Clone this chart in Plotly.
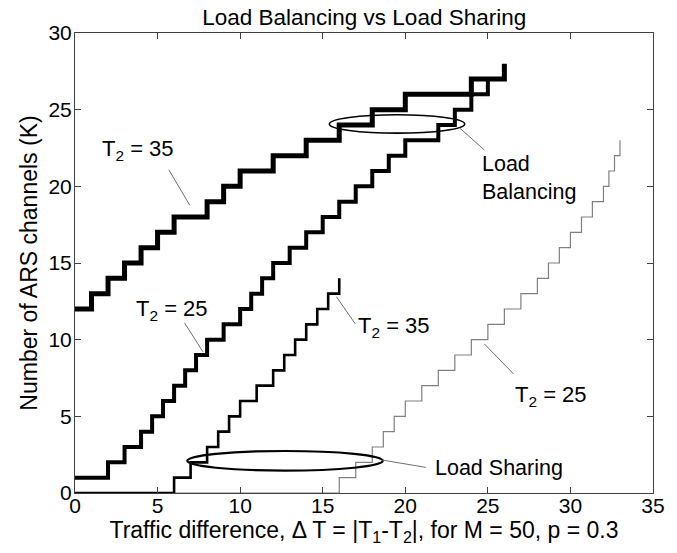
import plotly.graph_objects as go

# ---------------- data ----------------
# Load Balancing, T2 = 35
lb35_x = [0, 1, 2, 3, 4, 5, 6, 8, 9, 10, 12, 14, 16, 18, 20, 24, 26]
lb35_y = [12, 13, 14, 15, 16, 17, 18, 19, 20, 21, 22, 23, 24, 25, 26, 27, 28]
# Load Balancing, T2 = 25
lb25_x = [0, 2, 3, 4, 4.67, 5.33, 6, 6.67, 7.33, 8, 9, 10, 10.67, 11.33, 12,
          13, 14, 15, 16, 17, 18, 19, 20, 22, 23, 24, 25, 26]
lb25_y = [1, 2, 3, 4, 5, 6, 7, 8, 9, 10, 11, 12, 13, 14, 15, 16, 17, 18, 19,
          20, 21, 22, 23, 24, 25, 26, 27, 27]
# Load Sharing, T2 = 35
ls35_x = [0, 6, 7, 8, 8.67, 9.33, 10, 11, 12, 12.67, 13.33, 14, 14.67, 15.33, 16]
ls35_y = [0, 1, 2, 3, 4, 5, 6, 7, 8, 9, 10, 11, 12, 13, 14]
# Load Sharing, T2 = 25
ls25_x = [0, 16, 17, 18, 18.67, 19.33, 20, 21, 22, 23, 24, 25, 26, 27, 28,
          28.67, 29.33, 30, 30.67, 31.33, 32, 32.33, 32.67, 33]
ls25_y = [0, 1, 2, 3, 4, 5, 6, 7, 8, 9, 10, 11, 12, 13, 14, 15, 16, 17, 18,
          19, 20, 21, 22, 23]

x_ticks = [0, 5, 10, 15, 20, 25, 30, 35]
y_ticks = [0, 5, 10, 15, 20, 25, 30]

# annotation labels: (text, x, y, size)
labels = [
    ("T<sub>2</sub> = 35", 1.5, 22.35, 22),
    ("T<sub>2</sub> = 25", 3.6, 11.95, 22),
    ("T<sub>2</sub> = 35", 17.0, 10.8, 22),
    ("T<sub>2</sub> = 25", 26.55, 6.3, 22),
    ("Load<br>Balancing", 24.5, 20.55, 21.5),
    ("Load Sharing", 21.7, 1.63, 21.5),
]
# leader lines: (x0, y0, x1, y1)
leaders = [
    (5.68, 21.08, 6.95, 18.77),
    (6.63, 11.1, 7.74, 9.22),
    (15.83, 12.8, 16.98, 11.02),
    (24.79, 9.72, 26.56, 7.76),
    (23.3, 23.8, 24.79, 22.37),
    (18.6, 2.15, 21.24, 1.67),
]
# ellipses: (x0, x1, y0, y1, width)
ellipses = [
    (15.4, 23.6, 23.47, 24.67, 1.6),
    (6.8, 18.64, 1.46, 2.74, 2.2),
]

FONT = "Liberation Sans, Arial, sans-serif"

fig = go.Figure()
series = [
    (ls25_x, ls25_y, 1.2, "#808080"),
    (ls35_x, ls35_y, 2.6, "#000000"),
    (lb25_x, lb25_y, 4.0, "#000000"),
    (lb35_x, lb35_y, 5.0, "#000000"),
]
for xs, ys, w, c in series:
    fig.add_trace(go.Scatter(x=xs, y=ys, mode="lines",
                             line=dict(shape="hv", width=w, color=c),
                             hoverinfo="skip", showlegend=False))

shapes = []
for x0, x1, y0, y1, w in ellipses:
    shapes.append(dict(type="circle", xref="x", yref="y", x0=x0, x1=x1,
                       y0=y0, y1=y1, line=dict(color="#000000", width=w)))
for x0, y0, x1, y1 in leaders:
    shapes.append(dict(type="line", xref="x", yref="y", x0=x0, y0=y0,
                       x1=x1, y1=y1, line=dict(color="#707070", width=1)))

annotations = []
for txt, x, y, s in labels:
    annotations.append(dict(text=txt, x=x, y=y, xref="x", yref="y",
                            xanchor="left", yanchor="middle", align="left",
                            showarrow=False,
                            font=dict(family=FONT, size=s, color="#000")))

axis_common = dict(showline=True, mirror="ticks", linecolor="#404040",
                   linewidth=1, ticks="inside", ticklen=6, tickcolor="#404040",
                   showgrid=False, zeroline=False,
                   tickfont=dict(family=FONT, size=21, color="#000"))

fig.update_layout(
    width=677, height=553,
    margin=dict(l=75, r=19, t=33, b=60),
    paper_bgcolor="white", plot_bgcolor="white",
    title=dict(text="Load Balancing vs Load Sharing", x=0.538, xanchor="center",
               y=0.969, yanchor="middle", yref="container",
               font=dict(family=FONT, size=22.5, color="#000")),
    xaxis=dict(range=[0, 35], tickvals=x_ticks, ticklabelstandoff=-6,
               **axis_common,
               title=dict(text="Traffic difference, \u0394 T = |T<sub>1</sub>-T<sub>2</sub>|, for M = 50, p = 0.3",
                          standoff=2, font=dict(family=FONT, size=23, color="#000"))),
    yaxis=dict(range=[0, 30], tickvals=y_ticks, ticklabelstandoff=-2,
               **axis_common,
               title=dict(text="Number of ARS channels (K)", standoff=4,
                          font=dict(family=FONT, size=23, color="#000"))),
    shapes=shapes,
    annotations=annotations,
)

fig.write_html("out.html")
